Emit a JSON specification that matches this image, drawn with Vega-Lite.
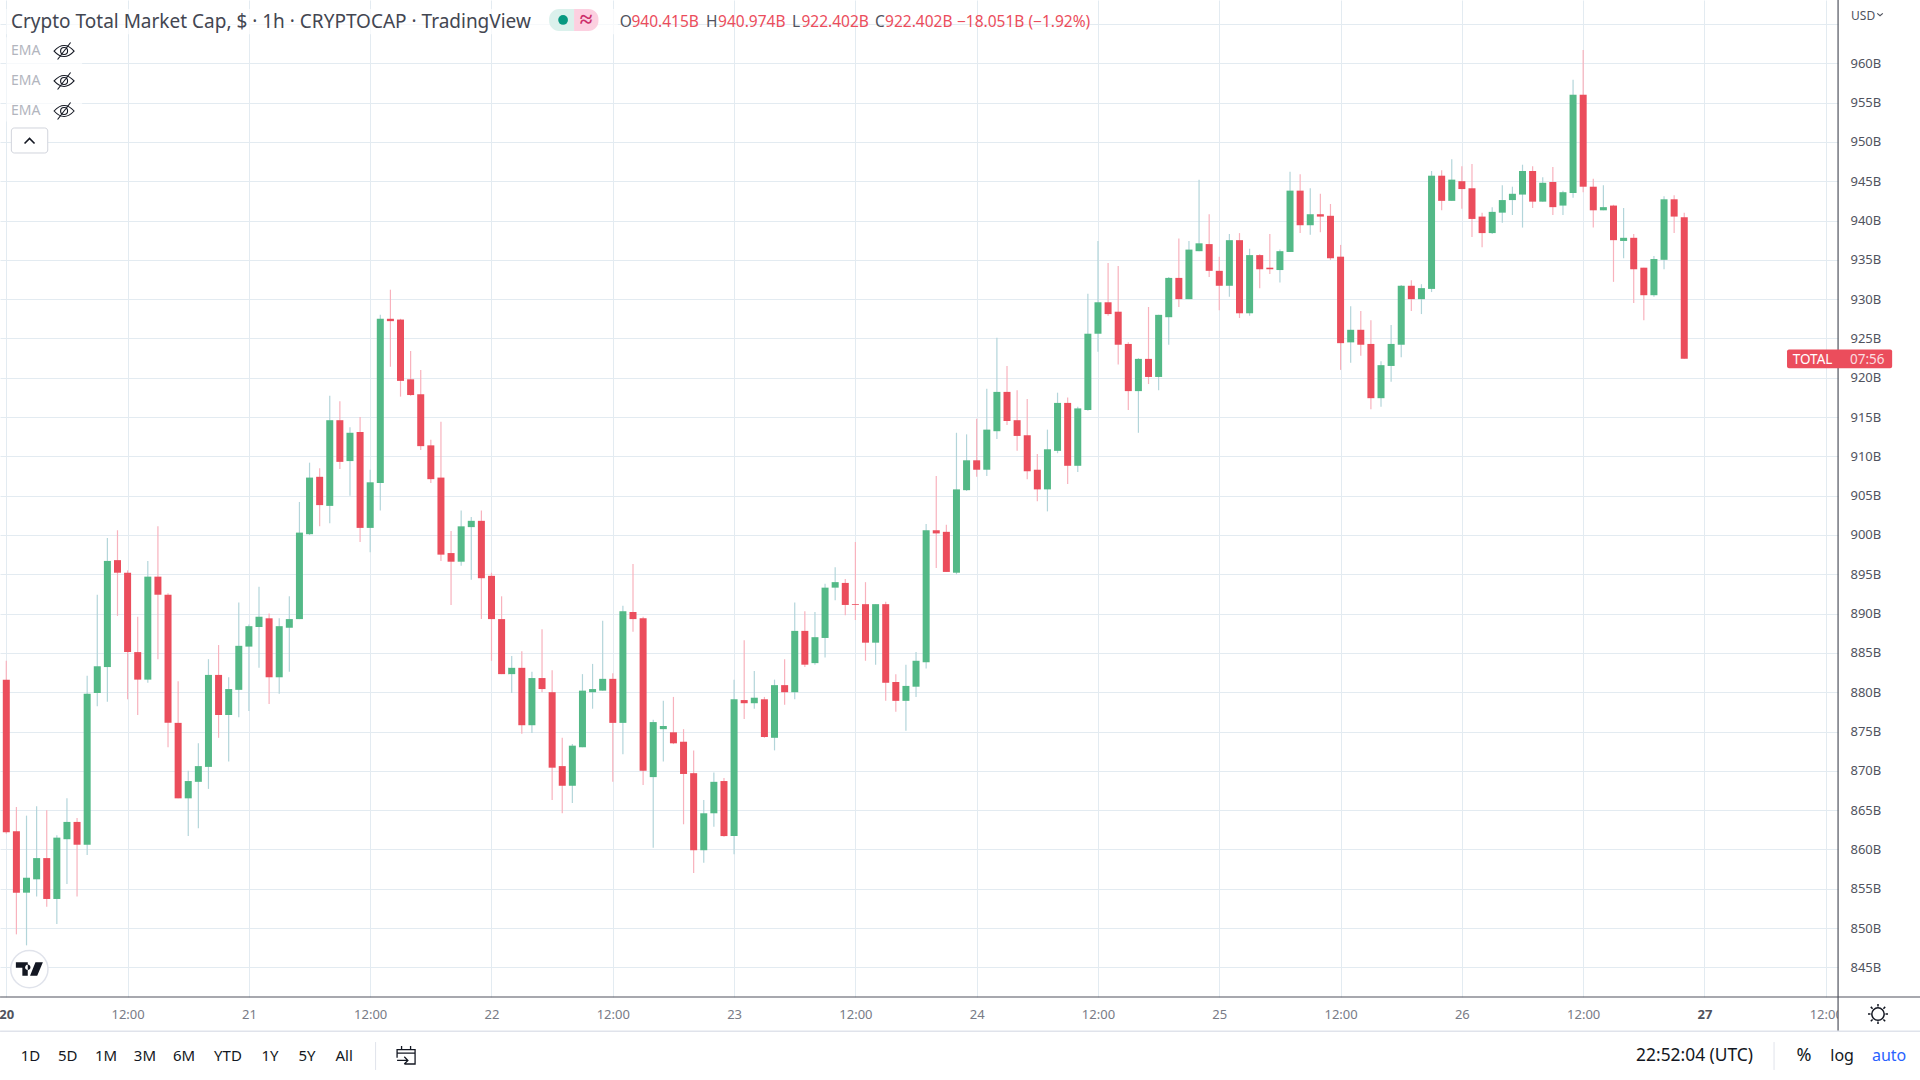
{
"$schema":"https://vega.github.io/schema/vega-lite/v6.json",
"width":1838,"height":997,"autosize":"none","padding":{"left":0,"top":0,"right":82,"bottom":83},
"background":"white",
"config":{"view":{"stroke":null},"text":{"font":"Noto Sans"},"axis":{"labelFont":"Noto Sans"}},
"data":{"values":[{}]},
"datasets":{"candles":[
{"t":"2022-06-20T00:00Z","o":881.6,"h":884.0,"l":862.0,"c":862.2},
{"t":"2022-06-20T01:00Z","o":862.3,"h":865.4,"l":849.2,"c":854.5},
{"t":"2022-06-20T02:00Z","o":854.5,"h":864.3,"l":847.8,"c":856.4},
{"t":"2022-06-20T03:00Z","o":856.2,"h":865.5,"l":854.0,"c":858.9},
{"t":"2022-06-20T04:00Z","o":858.9,"h":865.0,"l":852.7,"c":853.7},
{"t":"2022-06-20T05:00Z","o":853.7,"h":861.8,"l":850.5,"c":861.5},
{"t":"2022-06-20T06:00Z","o":861.3,"h":866.5,"l":855.6,"c":863.5},
{"t":"2022-06-20T07:00Z","o":863.5,"h":864.0,"l":854.0,"c":860.6},
{"t":"2022-06-20T08:00Z","o":860.6,"h":882.1,"l":859.3,"c":879.8},
{"t":"2022-06-20T09:00Z","o":879.9,"h":892.4,"l":878.2,"c":883.3},
{"t":"2022-06-20T10:00Z","o":883.2,"h":899.6,"l":878.8,"c":896.7},
{"t":"2022-06-20T11:00Z","o":896.8,"h":900.6,"l":889.7,"c":895.2},
{"t":"2022-06-20T12:00Z","o":895.2,"h":895.5,"l":879.1,"c":885.1},
{"t":"2022-06-20T13:00Z","o":885.1,"h":889.6,"l":877.1,"c":881.6},
{"t":"2022-06-20T14:00Z","o":881.6,"h":896.7,"l":881.2,"c":894.7},
{"t":"2022-06-20T15:00Z","o":894.7,"h":901.1,"l":884.2,"c":892.4},
{"t":"2022-06-20T16:00Z","o":892.4,"h":892.6,"l":873.0,"c":876.1},
{"t":"2022-06-20T17:00Z","o":876.1,"h":881.4,"l":866.5,"c":866.5},
{"t":"2022-06-20T18:00Z","o":866.5,"h":870.0,"l":861.7,"c":868.7},
{"t":"2022-06-20T19:00Z","o":868.6,"h":873.5,"l":862.7,"c":870.6},
{"t":"2022-06-20T20:00Z","o":870.5,"h":884.2,"l":867.7,"c":882.2},
{"t":"2022-06-20T21:00Z","o":882.2,"h":886.0,"l":874.2,"c":877.1},
{"t":"2022-06-20T22:00Z","o":877.1,"h":881.9,"l":871.2,"c":880.4},
{"t":"2022-06-20T23:00Z","o":880.3,"h":891.4,"l":876.8,"c":885.9},
{"t":"2022-06-21T00:00Z","o":885.8,"h":888.6,"l":877.6,"c":888.4},
{"t":"2022-06-21T01:00Z","o":888.3,"h":893.4,"l":883.1,"c":889.6},
{"t":"2022-06-21T02:00Z","o":889.4,"h":890.0,"l":878.5,"c":881.9},
{"t":"2022-06-21T03:00Z","o":881.9,"h":889.4,"l":879.8,"c":888.4},
{"t":"2022-06-21T04:00Z","o":888.2,"h":892.2,"l":882.6,"c":889.3},
{"t":"2022-06-21T05:00Z","o":889.3,"h":904.2,"l":889.3,"c":900.3},
{"t":"2022-06-21T06:00Z","o":900.1,"h":909.2,"l":900.0,"c":907.3},
{"t":"2022-06-21T07:00Z","o":907.4,"h":908.5,"l":901.1,"c":903.8},
{"t":"2022-06-21T08:00Z","o":903.7,"h":917.7,"l":901.5,"c":914.6},
{"t":"2022-06-21T09:00Z","o":914.6,"h":917.0,"l":908.4,"c":909.3},
{"t":"2022-06-21T10:00Z","o":909.4,"h":913.7,"l":905.0,"c":913.0},
{"t":"2022-06-21T11:00Z","o":913.1,"h":915.0,"l":899.1,"c":900.9},
{"t":"2022-06-21T12:00Z","o":900.9,"h":908.3,"l":897.8,"c":906.7},
{"t":"2022-06-21T13:00Z","o":906.6,"h":928.0,"l":903.1,"c":927.5},
{"t":"2022-06-21T14:00Z","o":927.5,"h":931.2,"l":921.4,"c":927.2},
{"t":"2022-06-21T15:00Z","o":927.4,"h":927.5,"l":917.6,"c":919.6},
{"t":"2022-06-21T16:00Z","o":919.8,"h":923.4,"l":917.7,"c":917.8},
{"t":"2022-06-21T17:00Z","o":917.9,"h":921.0,"l":910.8,"c":911.3},
{"t":"2022-06-21T18:00Z","o":911.4,"h":912.1,"l":906.6,"c":907.1},
{"t":"2022-06-21T19:00Z","o":907.3,"h":914.4,"l":896.7,"c":897.5},
{"t":"2022-06-21T20:00Z","o":897.7,"h":900.5,"l":891.1,"c":896.6},
{"t":"2022-06-21T21:00Z","o":896.6,"h":903.1,"l":896.1,"c":901.1},
{"t":"2022-06-21T22:00Z","o":901.0,"h":902.3,"l":894.3,"c":901.8},
{"t":"2022-06-21T23:00Z","o":901.8,"h":903.1,"l":889.3,"c":894.5},
{"t":"2022-06-22T00:00Z","o":894.8,"h":895.2,"l":884.0,"c":889.3},
{"t":"2022-06-22T01:00Z","o":889.3,"h":892.2,"l":882.3,"c":882.3},
{"t":"2022-06-22T02:00Z","o":882.3,"h":884.6,"l":879.9,"c":883.1},
{"t":"2022-06-22T03:00Z","o":883.1,"h":885.2,"l":874.7,"c":875.8},
{"t":"2022-06-22T04:00Z","o":875.8,"h":882.6,"l":874.8,"c":881.8},
{"t":"2022-06-22T05:00Z","o":881.8,"h":888.0,"l":880.0,"c":880.4},
{"t":"2022-06-22T06:00Z","o":880.0,"h":882.8,"l":866.3,"c":870.4},
{"t":"2022-06-22T07:00Z","o":870.6,"h":874.2,"l":864.6,"c":868.1},
{"t":"2022-06-22T08:00Z","o":868.1,"h":873.4,"l":865.9,"c":873.2},
{"t":"2022-06-22T09:00Z","o":873.0,"h":882.3,"l":873.0,"c":880.2},
{"t":"2022-06-22T10:00Z","o":880.0,"h":883.6,"l":877.9,"c":880.4},
{"t":"2022-06-22T11:00Z","o":880.2,"h":889.1,"l":880.2,"c":881.7},
{"t":"2022-06-22T12:00Z","o":881.7,"h":882.4,"l":868.6,"c":876.1},
{"t":"2022-06-22T13:00Z","o":876.1,"h":891.0,"l":872.1,"c":890.3},
{"t":"2022-06-22T14:00Z","o":890.2,"h":896.3,"l":887.7,"c":889.3},
{"t":"2022-06-22T15:00Z","o":889.4,"h":889.6,"l":868.2,"c":870.0},
{"t":"2022-06-22T16:00Z","o":869.2,"h":876.5,"l":860.2,"c":876.2},
{"t":"2022-06-22T17:00Z","o":875.3,"h":878.9,"l":871.2,"c":875.7},
{"t":"2022-06-22T18:00Z","o":874.9,"h":879.4,"l":873.4,"c":873.5},
{"t":"2022-06-22T19:00Z","o":873.7,"h":875.3,"l":863.2,"c":869.6},
{"t":"2022-06-22T20:00Z","o":869.7,"h":872.6,"l":857.0,"c":859.9},
{"t":"2022-06-22T21:00Z","o":859.9,"h":866.3,"l":858.3,"c":864.6},
{"t":"2022-06-22T22:00Z","o":864.6,"h":869.8,"l":862.9,"c":868.6},
{"t":"2022-06-22T23:00Z","o":868.7,"h":869.1,"l":861.6,"c":861.7},
{"t":"2022-06-23T00:00Z","o":861.7,"h":881.6,"l":859.4,"c":879.1},
{"t":"2022-06-23T01:00Z","o":879.0,"h":886.6,"l":876.6,"c":878.6},
{"t":"2022-06-23T02:00Z","o":878.6,"h":882.7,"l":877.9,"c":879.3},
{"t":"2022-06-23T03:00Z","o":879.1,"h":879.4,"l":874.2,"c":874.3},
{"t":"2022-06-23T04:00Z","o":874.2,"h":881.6,"l":872.6,"c":880.9},
{"t":"2022-06-23T05:00Z","o":880.9,"h":884.2,"l":878.4,"c":880.0},
{"t":"2022-06-23T06:00Z","o":880.0,"h":891.4,"l":879.1,"c":887.8},
{"t":"2022-06-23T07:00Z","o":887.8,"h":890.3,"l":883.2,"c":883.5},
{"t":"2022-06-23T08:00Z","o":883.7,"h":890.2,"l":883.5,"c":887.0},
{"t":"2022-06-23T09:00Z","o":886.9,"h":893.8,"l":884.4,"c":893.3},
{"t":"2022-06-23T10:00Z","o":893.3,"h":895.9,"l":891.7,"c":894.0},
{"t":"2022-06-23T11:00Z","o":893.9,"h":894.4,"l":889.8,"c":891.1},
{"t":"2022-06-23T12:00Z","o":891.2,"h":899.1,"l":889.2,"c":891.1},
{"t":"2022-06-23T13:00Z","o":891.2,"h":894.0,"l":884.0,"c":886.3},
{"t":"2022-06-23T14:00Z","o":886.3,"h":891.2,"l":883.5,"c":891.2},
{"t":"2022-06-23T15:00Z","o":891.2,"h":891.5,"l":878.9,"c":881.2},
{"t":"2022-06-23T16:00Z","o":881.3,"h":882.3,"l":877.5,"c":878.9},
{"t":"2022-06-23T17:00Z","o":878.9,"h":883.5,"l":875.1,"c":880.8},
{"t":"2022-06-23T18:00Z","o":880.7,"h":885.1,"l":879.4,"c":884.0},
{"t":"2022-06-23T19:00Z","o":883.8,"h":901.4,"l":883.0,"c":900.6},
{"t":"2022-06-23T20:00Z","o":900.6,"h":907.5,"l":895.8,"c":900.2},
{"t":"2022-06-23T21:00Z","o":900.4,"h":901.3,"l":895.3,"c":895.3},
{"t":"2022-06-23T22:00Z","o":895.2,"h":913.0,"l":895.0,"c":905.8},
{"t":"2022-06-23T23:00Z","o":905.7,"h":912.8,"l":905.6,"c":909.5},
{"t":"2022-06-24T00:00Z","o":909.5,"h":914.8,"l":907.4,"c":908.3},
{"t":"2022-06-24T01:00Z","o":908.3,"h":918.6,"l":907.5,"c":913.4},
{"t":"2022-06-24T02:00Z","o":913.2,"h":925.1,"l":912.2,"c":918.2},
{"t":"2022-06-24T03:00Z","o":918.2,"h":921.5,"l":914.0,"c":914.5},
{"t":"2022-06-24T04:00Z","o":914.6,"h":918.4,"l":910.7,"c":912.6},
{"t":"2022-06-24T05:00Z","o":912.7,"h":917.3,"l":907.1,"c":908.1},
{"t":"2022-06-24T06:00Z","o":908.3,"h":910.3,"l":904.3,"c":905.8},
{"t":"2022-06-24T07:00Z","o":905.8,"h":913.4,"l":903.0,"c":910.9},
{"t":"2022-06-24T08:00Z","o":910.7,"h":918.1,"l":910.4,"c":916.8},
{"t":"2022-06-24T09:00Z","o":916.8,"h":917.5,"l":906.5,"c":908.8},
{"t":"2022-06-24T10:00Z","o":908.8,"h":916.3,"l":908.0,"c":916.1},
{"t":"2022-06-24T11:00Z","o":915.9,"h":930.7,"l":915.8,"c":925.6},
{"t":"2022-06-24T12:00Z","o":925.6,"h":937.4,"l":923.3,"c":929.6},
{"t":"2022-06-24T13:00Z","o":929.6,"h":934.6,"l":927.9,"c":928.1},
{"t":"2022-06-24T14:00Z","o":928.4,"h":934.2,"l":921.7,"c":924.2},
{"t":"2022-06-24T15:00Z","o":924.3,"h":924.5,"l":915.9,"c":918.3},
{"t":"2022-06-24T16:00Z","o":918.3,"h":922.5,"l":913.0,"c":922.4},
{"t":"2022-06-24T17:00Z","o":922.4,"h":929.0,"l":919.2,"c":920.1},
{"t":"2022-06-24T18:00Z","o":920.1,"h":928.0,"l":918.4,"c":928.0},
{"t":"2022-06-24T19:00Z","o":927.7,"h":932.8,"l":924.2,"c":932.7},
{"t":"2022-06-24T20:00Z","o":932.7,"h":937.7,"l":929.0,"c":930.0},
{"t":"2022-06-24T21:00Z","o":930.0,"h":937.4,"l":930.0,"c":936.3},
{"t":"2022-06-24T22:00Z","o":936.1,"h":945.2,"l":936.1,"c":937.1},
{"t":"2022-06-24T23:00Z","o":937.0,"h":940.8,"l":932.8,"c":933.6},
{"t":"2022-06-25T00:00Z","o":933.6,"h":935.4,"l":928.6,"c":931.7},
{"t":"2022-06-25T01:00Z","o":931.7,"h":938.3,"l":930.3,"c":937.5},
{"t":"2022-06-25T02:00Z","o":937.5,"h":938.4,"l":927.6,"c":928.2},
{"t":"2022-06-25T03:00Z","o":928.2,"h":936.4,"l":927.9,"c":935.6},
{"t":"2022-06-25T04:00Z","o":935.6,"h":935.7,"l":931.4,"c":933.8},
{"t":"2022-06-25T05:00Z","o":934.0,"h":938.3,"l":933.2,"c":933.8},
{"t":"2022-06-25T06:00Z","o":933.7,"h":936.3,"l":932.1,"c":936.1},
{"t":"2022-06-25T07:00Z","o":936.0,"h":946.2,"l":936.0,"c":943.8},
{"t":"2022-06-25T08:00Z","o":943.8,"h":945.9,"l":938.4,"c":939.4},
{"t":"2022-06-25T09:00Z","o":939.4,"h":944.1,"l":938.2,"c":940.8},
{"t":"2022-06-25T10:00Z","o":940.8,"h":943.4,"l":938.5,"c":940.5},
{"t":"2022-06-25T11:00Z","o":940.6,"h":942.1,"l":935.0,"c":935.2},
{"t":"2022-06-25T12:00Z","o":935.4,"h":936.9,"l":921.0,"c":924.4},
{"t":"2022-06-25T13:00Z","o":924.5,"h":929.1,"l":921.9,"c":926.1},
{"t":"2022-06-25T14:00Z","o":926.1,"h":928.5,"l":922.8,"c":924.2},
{"t":"2022-06-25T15:00Z","o":924.3,"h":927.3,"l":916.0,"c":917.4},
{"t":"2022-06-25T16:00Z","o":917.4,"h":922.1,"l":916.3,"c":921.6},
{"t":"2022-06-25T17:00Z","o":921.5,"h":926.7,"l":919.5,"c":924.3},
{"t":"2022-06-25T18:00Z","o":924.2,"h":931.8,"l":922.6,"c":931.7},
{"t":"2022-06-25T19:00Z","o":931.7,"h":932.4,"l":928.5,"c":930.0},
{"t":"2022-06-25T20:00Z","o":930.0,"h":931.9,"l":928.1,"c":931.4},
{"t":"2022-06-25T21:00Z","o":931.3,"h":946.3,"l":930.9,"c":945.7},
{"t":"2022-06-25T22:00Z","o":945.7,"h":946.4,"l":941.3,"c":942.5},
{"t":"2022-06-25T23:00Z","o":942.5,"h":947.8,"l":942.5,"c":945.2},
{"t":"2022-06-26T00:00Z","o":945.0,"h":946.9,"l":941.5,"c":944.0},
{"t":"2022-06-26T01:00Z","o":944.1,"h":947.2,"l":937.9,"c":940.2},
{"t":"2022-06-26T02:00Z","o":940.5,"h":941.0,"l":936.6,"c":938.4},
{"t":"2022-06-26T03:00Z","o":938.4,"h":941.7,"l":938.3,"c":941.1},
{"t":"2022-06-26T04:00Z","o":941.0,"h":944.5,"l":939.7,"c":942.6},
{"t":"2022-06-26T05:00Z","o":942.6,"h":944.3,"l":940.7,"c":943.4},
{"t":"2022-06-26T06:00Z","o":943.3,"h":947.1,"l":939.1,"c":946.3},
{"t":"2022-06-26T07:00Z","o":946.3,"h":946.9,"l":941.6,"c":942.4},
{"t":"2022-06-26T08:00Z","o":942.4,"h":945.5,"l":942.4,"c":944.8},
{"t":"2022-06-26T09:00Z","o":944.9,"h":946.8,"l":940.7,"c":941.7},
{"t":"2022-06-26T10:00Z","o":941.9,"h":943.8,"l":940.7,"c":943.6},
{"t":"2022-06-26T11:00Z","o":943.5,"h":957.9,"l":942.9,"c":956.0},
{"t":"2022-06-26T12:00Z","o":956.0,"h":961.7,"l":943.6,"c":944.3},
{"t":"2022-06-26T13:00Z","o":944.3,"h":945.3,"l":939.1,"c":941.3},
{"t":"2022-06-26T14:00Z","o":941.3,"h":944.5,"l":941.3,"c":941.7},
{"t":"2022-06-26T15:00Z","o":941.9,"h":942.0,"l":932.2,"c":937.5},
{"t":"2022-06-26T16:00Z","o":937.4,"h":941.6,"l":935.2,"c":937.8},
{"t":"2022-06-26T17:00Z","o":937.8,"h":938.3,"l":929.5,"c":933.8},
{"t":"2022-06-26T18:00Z","o":934.0,"h":934.0,"l":927.3,"c":930.5},
{"t":"2022-06-26T19:00Z","o":930.5,"h":935.5,"l":930.3,"c":935.1},
{"t":"2022-06-26T20:00Z","o":935.0,"h":943.1,"l":933.8,"c":942.7},
{"t":"2022-06-26T21:00Z","o":942.7,"h":943.2,"l":938.4,"c":940.5},
{"t":"2022-06-26T22:00Z","o":940.415,"h":940.974,"l":922.402,"c":922.402}
]},
"layer":[
{"data":{"name":"candles"},
 "mark":{"type":"rule","strokeWidth":1.2},
 "encoding":{
  "x":{"field":"t","type":"temporal","title":null,
   "scale":{"type":"utc","padding":0,"domain":["2022-06-19T23:22:37Z","2022-06-27T13:12:36Z"]},
   "axis":{"orient":"bottom","domain":false,"ticks":false,"title":null,"grid":true,"gridColor":"#e3ebf1","gridWidth":1,"zindex":0,
    "labelBaseline":"middle","labelPadding":17,"labelFontSize":13,"labelColor":{"condition":{"test":"utchours(datum.value)==0 && (utcdate(datum.value)==20 || utcdate(datum.value)==27)","value":"#50535e"},"value":"#787b86"},
    "labelFontWeight":{"condition":{"test":"utchours(datum.value)==0 && (utcdate(datum.value)==20 || utcdate(datum.value)==27)","value":"bold"},"value":"normal"},
    "labelOverlap":false,"labelBound":false,"labelFlush":false,"labelAngle":0,
    "labelExpr":"utchours(datum.value)==0 ? ''+utcdate(datum.value) : '12:00'",
    "values":["2022-06-20T00:00:00Z","2022-06-20T12:00:00Z","2022-06-21T00:00:00Z","2022-06-21T12:00:00Z","2022-06-22T00:00:00Z","2022-06-22T12:00:00Z","2022-06-23T00:00:00Z","2022-06-23T12:00:00Z","2022-06-24T00:00:00Z","2022-06-24T12:00:00Z","2022-06-25T00:00:00Z","2022-06-25T12:00:00Z","2022-06-26T00:00:00Z","2022-06-26T12:00:00Z","2022-06-27T00:00:00Z","2022-06-27T12:00:00Z"]}},
  "y":{"field":"l","type":"quantitative","title":null,
   "scale":{"domain":[841.23,968.05],"nice":false,"zero":false},
   "axis":{"orient":"right","domain":false,"ticks":false,"title":null,"grid":true,"gridColor":"#e3ebf1","gridWidth":1,"zindex":0,
    "labelAlign":"left","labelBaseline":"middle","labelPadding":12,"labelFontSize":13,"labelColor":"#50535e","labelOverlap":false,"labelBound":false,"labelFlush":false,
    "labelExpr":"datum.value>960 ? '' : datum.value+'B'",
    "values":[845,850,855,860,865,870,875,880,885,890,895,900,905,910,915,920,925,930,935,940,945,950,955,960,965]}},
  "y2":{"field":"h"},
  "color":{"condition":{"test":"datum.c>=datum.o","value":"#b3d5da"},"value":"#f8b2bd"}
 }},
{"data":{"name":"candles"},
 "mark":{"type":"bar","size":7},
 "encoding":{
  "x":{"field":"t","type":"temporal"},
  "y":{"field":"o","type":"quantitative"},
  "y2":{"field":"c"},
  "color":{"condition":{"test":"datum.c>=datum.o","value":"#53b987"},"value":"#eb4d5c"}
 }},
{"mark":{"type":"rect","color":"white"},"encoding":{"x":{"datum":{"year":2022,"month":6,"date":27,"hours":13,"minutes":13,"utc":true},"type":"temporal"},"x2":{"datum":{"year":2022,"month":6,"date":27,"hours":21,"minutes":20,"utc":true}},"y":{"datum":841.23,"type":"quantitative"},"y2":{"datum":836.88}}},
{"mark":{"type":"rect","color":"white","opacity":0.7},"encoding":{"x":{"datum":{"year":2022,"month":6,"date":20,"hours":0,"minutes":0,"utc":true},"type":"temporal"},"x2":{"datum":{"year":2022,"month":6,"date":22,"hours":12,"minutes":30,"utc":true}},"y":{"datum":966.9,"type":"quantitative"},"y2":{"datum":963.7}}},
{"mark":{"type":"rect","color":"white","opacity":0.7},"encoding":{"x":{"datum":{"year":2022,"month":6,"date":20,"hours":0,"minutes":0,"utc":true},"type":"temporal"},"x2":{"datum":{"year":2022,"month":6,"date":20,"hours":7,"minutes":30,"utc":true}},"y":{"datum":963.3,"type":"quantitative"},"y2":{"datum":952.6}}},
{"mark":{"type":"rule","color":"#50535e","strokeWidth":1.2},"encoding":{"x":{"datum":{"year":2022,"month":6,"date":19,"hours":23,"minutes":23,"utc":true},"type":"temporal"},"x2":{"datum":{"year":2022,"month":6,"date":27,"hours":21,"minutes":20,"utc":true}},"y":{"datum":841.23,"type":"quantitative"}}},
{"mark":{"type":"rule","color":"#50535e","strokeWidth":1.2},"encoding":{"x":{"datum":{"year":2022,"month":6,"date":27,"hours":13,"minutes":13,"utc":true},"type":"temporal"},"y":{"datum":968.05,"type":"quantitative"},"y2":{"datum":836.88}}},
{"mark":{"type":"rule","color":"#e0e3eb","strokeWidth":1.5},"encoding":{"x":{"datum":{"year":2022,"month":6,"date":19,"hours":23,"minutes":23,"utc":true},"type":"temporal"},"x2":{"datum":{"year":2022,"month":6,"date":27,"hours":21,"minutes":20,"utc":true}},"y":{"datum":836.88,"type":"quantitative"}}},
{"mark":{"type":"rule","color":"#e0e3eb","strokeWidth":1},"encoding":{"x":{"datum":{"year":2022,"month":6,"date":21,"hours":12,"minutes":32,"utc":true},"type":"temporal"},"y":{"datum":835.5,"type":"quantitative"},"y2":{"datum":831.95}}},
{"mark":{"type":"rule","color":"#e0e3eb","strokeWidth":1},"encoding":{"x":{"datum":{"year":2022,"month":6,"date":27,"hours":6,"minutes":53,"utc":true},"type":"temporal"},"y":{"datum":835.5,"type":"quantitative"},"y2":{"datum":831.95}}},
{"mark":{"type":"rect","color":"#eb4d5c","cornerRadius":2},"encoding":{"x":{"datum":{"year":2022,"month":6,"date":27,"hours":8,"minutes":10,"utc":true},"type":"temporal"},"x2":{"datum":{"year":2022,"month":6,"date":27,"hours":18,"minutes":34,"utc":true}},"y":{"datum":923.6,"type":"quantitative"},"y2":{"datum":921.2}}},
{"mark":{"type":"text","text":"TOTAL","align":"left","baseline":"middle","fontSize":13.5,"color":"white"},"encoding":{"x":{"datum":{"year":2022,"month":6,"date":27,"hours":8,"minutes":44,"utc":true},"type":"temporal"},"y":{"datum":922.3,"type":"quantitative"}}},
{"mark":{"type":"text","text":"07:56","align":"left","baseline":"middle","fontSize":13.5,"color":"#fbdde0"},"encoding":{"x":{"datum":{"year":2022,"month":6,"date":27,"hours":14,"minutes":24,"utc":true},"type":"temporal"},"y":{"datum":922.3,"type":"quantitative"}}},
{"mark":{"type":"text","text":"Crypto Total Market Cap, $ · 1h · CRYPTOCAP · TradingView","align":"left","baseline":"middle","fontSize":19,"color":"#434651"},"encoding":{"x":{"datum":{"year":2022,"month":6,"date":20,"hours":0,"minutes":28,"utc":true},"type":"temporal"},"y":{"datum":965.3,"type":"quantitative"}}},
{"mark":{"type":"rect","color":"#dbf1ec","cornerRadiusTopLeft":10,"cornerRadiusBottomLeft":10},"encoding":{"x":{"datum":{"year":2022,"month":6,"date":22,"hours":5,"minutes":42,"utc":true},"type":"temporal"},"x2":{"datum":{"year":2022,"month":6,"date":22,"hours":8,"minutes":10,"utc":true}},"y":{"datum":966.91,"type":"quantitative"},"y2":{"datum":964.11}}},
{"mark":{"type":"rect","color":"#fcd0e0","cornerRadiusTopRight":10,"cornerRadiusBottomRight":10},"encoding":{"x":{"datum":{"year":2022,"month":6,"date":22,"hours":8,"minutes":10,"utc":true},"type":"temporal"},"x2":{"datum":{"year":2022,"month":6,"date":22,"hours":10,"minutes":35,"utc":true}},"y":{"datum":966.91,"type":"quantitative"},"y2":{"datum":964.11}}},
{"mark":{"type":"point","shape":"circle","filled":true,"size":95,"color":"#089981","opacity":1},"encoding":{"x":{"datum":{"year":2022,"month":6,"date":22,"hours":7,"minutes":5,"utc":true},"type":"temporal"},"y":{"datum":965.51,"type":"quantitative"}}},
{"mark":{"type":"text","text":"≈","align":"center","baseline":"middle","fontSize":23,"fontWeight":"bold","color":"#cc2f6b"},"encoding":{"x":{"datum":{"year":2022,"month":6,"date":22,"hours":9,"minutes":21,"utc":true},"type":"temporal"},"y":{"datum":965.51,"type":"quantitative"}}},
{"mark":{"type":"text","text":"O","align":"left","baseline":"middle","fontSize":15.5,"color":"#50535e"},"encoding":{"x":{"datum":{"year":2022,"month":6,"date":22,"hours":12,"minutes":41,"utc":true},"type":"temporal"},"y":{"datum":965.3,"type":"quantitative"}}},
{"mark":{"type":"text","text":"940.415B","align":"left","baseline":"middle","fontSize":15.5,"color":"#eb4d5c"},"encoding":{"x":{"datum":{"year":2022,"month":6,"date":22,"hours":13,"minutes":51,"utc":true},"type":"temporal"},"y":{"datum":965.3,"type":"quantitative"}}},
{"mark":{"type":"text","text":"H","align":"left","baseline":"middle","fontSize":15.5,"color":"#50535e"},"encoding":{"x":{"datum":{"year":2022,"month":6,"date":22,"hours":21,"minutes":13,"utc":true},"type":"temporal"},"y":{"datum":965.3,"type":"quantitative"}}},
{"mark":{"type":"text","text":"940.974B","align":"left","baseline":"middle","fontSize":15.5,"color":"#eb4d5c"},"encoding":{"x":{"datum":{"year":2022,"month":6,"date":22,"hours":22,"minutes":25,"utc":true},"type":"temporal"},"y":{"datum":965.3,"type":"quantitative"}}},
{"mark":{"type":"text","text":"L","align":"left","baseline":"middle","fontSize":15.5,"color":"#50535e"},"encoding":{"x":{"datum":{"year":2022,"month":6,"date":23,"hours":5,"minutes":44,"utc":true},"type":"temporal"},"y":{"datum":965.3,"type":"quantitative"}}},
{"mark":{"type":"text","text":"922.402B","align":"left","baseline":"middle","fontSize":15.5,"color":"#eb4d5c"},"encoding":{"x":{"datum":{"year":2022,"month":6,"date":23,"hours":6,"minutes":40,"utc":true},"type":"temporal"},"y":{"datum":965.3,"type":"quantitative"}}},
{"mark":{"type":"text","text":"C","align":"left","baseline":"middle","fontSize":15.5,"color":"#50535e"},"encoding":{"x":{"datum":{"year":2022,"month":6,"date":23,"hours":13,"minutes":57,"utc":true},"type":"temporal"},"y":{"datum":965.3,"type":"quantitative"}}},
{"mark":{"type":"text","text":"922.402B","align":"left","baseline":"middle","fontSize":15.5,"color":"#eb4d5c"},"encoding":{"x":{"datum":{"year":2022,"month":6,"date":23,"hours":14,"minutes":56,"utc":true},"type":"temporal"},"y":{"datum":965.3,"type":"quantitative"}}},
{"mark":{"type":"text","text":"−18.051B (−1.92%)","align":"left","baseline":"middle","fontSize":15.5,"color":"#eb4d5c"},"encoding":{"x":{"datum":{"year":2022,"month":6,"date":23,"hours":22,"minutes":3,"utc":true},"type":"temporal"},"y":{"datum":965.3,"type":"quantitative"}}},
{"mark":{"type":"text","text":"EMA","align":"left","baseline":"middle","fontSize":14,"color":"#b2b5be"},"encoding":{"x":{"datum":{"year":2022,"month":6,"date":20,"hours":0,"minutes":28,"utc":true},"type":"temporal"},"y":{"datum":961.5,"type":"quantitative"}}},
{"mark":{"type":"text","text":"EMA","align":"left","baseline":"middle","fontSize":14,"color":"#b2b5be"},"encoding":{"x":{"datum":{"year":2022,"month":6,"date":20,"hours":0,"minutes":28,"utc":true},"type":"temporal"},"y":{"datum":957.7,"type":"quantitative"}}},
{"mark":{"type":"text","text":"EMA","align":"left","baseline":"middle","fontSize":14,"color":"#b2b5be"},"encoding":{"x":{"datum":{"year":2022,"month":6,"date":20,"hours":0,"minutes":28,"utc":true},"type":"temporal"},"y":{"datum":953.9,"type":"quantitative"}}},
{"mark":{"type":"point","size":400,"filled":false,"strokeWidth":1.1,"color":"#131722","opacity":1,"shape":"M-1,0 Q0,-1.1 1,0 Q0,1.1 -1,0 Z M-0.35,0 A0.35,0.35 0 1 0 0.35,0 A0.35,0.35 0 1 0 -0.35,0 M-0.65,0.85 L0.65,-0.85"},"encoding":{"x":{"datum":{"year":2022,"month":6,"date":20,"hours":5,"minutes":43,"utc":true},"type":"temporal"},"y":{"datum":961.56,"type":"quantitative"}}},
{"mark":{"type":"point","size":400,"filled":false,"strokeWidth":1.1,"color":"#131722","opacity":1,"shape":"M-1,0 Q0,-1.1 1,0 Q0,1.1 -1,0 Z M-0.35,0 A0.35,0.35 0 1 0 0.35,0 A0.35,0.35 0 1 0 -0.35,0 M-0.65,0.85 L0.65,-0.85"},"encoding":{"x":{"datum":{"year":2022,"month":6,"date":20,"hours":5,"minutes":43,"utc":true},"type":"temporal"},"y":{"datum":957.75,"type":"quantitative"}}},
{"mark":{"type":"point","size":400,"filled":false,"strokeWidth":1.1,"color":"#131722","opacity":1,"shape":"M-1,0 Q0,-1.1 1,0 Q0,1.1 -1,0 Z M-0.35,0 A0.35,0.35 0 1 0 0.35,0 A0.35,0.35 0 1 0 -0.35,0 M-0.65,0.85 L0.65,-0.85"},"encoding":{"x":{"datum":{"year":2022,"month":6,"date":20,"hours":5,"minutes":43,"utc":true},"type":"temporal"},"y":{"datum":953.93,"type":"quantitative"}}},
{"mark":{"type":"rect","color":"white","stroke":"#d1d4dc","strokeWidth":1,"cornerRadius":3},"encoding":{"x":{"datum":{"year":2022,"month":6,"date":20,"hours":0,"minutes":30,"utc":true},"type":"temporal"},"x2":{"datum":{"year":2022,"month":6,"date":20,"hours":4,"minutes":6,"utc":true}},"y":{"datum":951.77,"type":"quantitative"},"y2":{"datum":948.59}}},
{"mark":{"type":"point","size":400,"filled":false,"strokeWidth":1.6,"color":"#131722","opacity":1,"shape":"M-0.5,0.25 L0,-0.25 L0.5,0.25"},"encoding":{"x":{"datum":{"year":2022,"month":6,"date":20,"hours":2,"minutes":18,"utc":true},"type":"temporal"},"y":{"datum":950.12,"type":"quantitative"}}},
{"mark":{"type":"point","shape":"circle","size":1385,"filled":true,"fill":"white","stroke":"#e0e3eb","strokeWidth":1.5,"opacity":1},"encoding":{"x":{"datum":{"year":2022,"month":6,"date":20,"hours":2,"minutes":17,"utc":true},"type":"temporal"},"y":{"datum":844.78,"type":"quantitative"}}},
{"mark":{"type":"point","size":729,"filled":true,"color":"#131722","opacity":1,"shape":"M-1,-0.5 H-0.12 V0.5 H-0.52 V-0.1 H-1 Z M0.02,-0.28 A0.2,0.2 0 1 0 0.03,-0.27 Z M0.45,-0.5 H1 L0.58,0.5 H0.05 Z"},"encoding":{"x":{"datum":{"year":2022,"month":6,"date":20,"hours":2,"minutes":17,"utc":true},"type":"temporal"},"y":{"datum":844.78,"type":"quantitative"}}},
{"mark":{"type":"text","text":"USD","align":"left","baseline":"middle","fontSize":12,"color":"#50535e"},"encoding":{"x":{"datum":{"year":2022,"month":6,"date":27,"hours":14,"minutes":30,"utc":true},"type":"temporal"},"y":{"datum":966.02,"type":"quantitative"}}},
{"mark":{"type":"point","size":64,"filled":false,"strokeWidth":1.2,"color":"#50535e","opacity":1,"shape":"M-0.7,-0.3 L0,0.3 L0.7,-0.3"},"encoding":{"x":{"datum":{"year":2022,"month":6,"date":27,"hours":17,"minutes":22,"utc":true},"type":"temporal"},"y":{"datum":966.2,"type":"quantitative"}}},
{"mark":{"type":"point","size":400,"filled":false,"strokeWidth":1.5,"color":"#131722","opacity":1,"shape":"M0.62,0 A0.62,0.62 0 1 1 -0.62,0 A0.62,0.62 0 1 1 0.62,0 M0,-1 V-0.75 M0,1 V0.75 M-1,0 H-0.75 M1,0 H0.75 M-0.72,-0.72 L-0.54,-0.54 M0.72,0.72 L0.54,0.54 M-0.72,0.72 L-0.54,0.54 M0.72,-0.72 L0.54,-0.54"},"encoding":{"x":{"datum":{"year":2022,"month":6,"date":27,"hours":17,"minutes":10,"utc":true},"type":"temporal"},"y":{"datum":839.06,"type":"quantitative"}}},
{"mark":{"type":"text","text":"1D","align":"center","baseline":"middle","fontSize":15,"color":"#131722"},"encoding":{"x":{"datum":{"year":2022,"month":6,"date":20,"hours":2,"minutes":24,"utc":true},"type":"temporal"},"y":{"datum":833.75,"type":"quantitative"}}},
{"mark":{"type":"text","text":"5D","align":"center","baseline":"middle","fontSize":15,"color":"#131722"},"encoding":{"x":{"datum":{"year":2022,"month":6,"date":20,"hours":6,"minutes":5,"utc":true},"type":"temporal"},"y":{"datum":833.75,"type":"quantitative"}}},
{"mark":{"type":"text","text":"1M","align":"center","baseline":"middle","fontSize":15,"color":"#131722"},"encoding":{"x":{"datum":{"year":2022,"month":6,"date":20,"hours":9,"minutes":52,"utc":true},"type":"temporal"},"y":{"datum":833.75,"type":"quantitative"}}},
{"mark":{"type":"text","text":"3M","align":"center","baseline":"middle","fontSize":15,"color":"#131722"},"encoding":{"x":{"datum":{"year":2022,"month":6,"date":20,"hours":13,"minutes":43,"utc":true},"type":"temporal"},"y":{"datum":833.75,"type":"quantitative"}}},
{"mark":{"type":"text","text":"6M","align":"center","baseline":"middle","fontSize":15,"color":"#131722"},"encoding":{"x":{"datum":{"year":2022,"month":6,"date":20,"hours":17,"minutes":35,"utc":true},"type":"temporal"},"y":{"datum":833.75,"type":"quantitative"}}},
{"mark":{"type":"text","text":"YTD","align":"center","baseline":"middle","fontSize":15,"color":"#131722"},"encoding":{"x":{"datum":{"year":2022,"month":6,"date":20,"hours":21,"minutes":56,"utc":true},"type":"temporal"},"y":{"datum":833.75,"type":"quantitative"}}},
{"mark":{"type":"text","text":"1Y","align":"center","baseline":"middle","fontSize":15,"color":"#131722"},"encoding":{"x":{"datum":{"year":2022,"month":6,"date":21,"hours":2,"minutes":5,"utc":true},"type":"temporal"},"y":{"datum":833.75,"type":"quantitative"}}},
{"mark":{"type":"text","text":"5Y","align":"center","baseline":"middle","fontSize":15,"color":"#131722"},"encoding":{"x":{"datum":{"year":2022,"month":6,"date":21,"hours":5,"minutes":45,"utc":true},"type":"temporal"},"y":{"datum":833.75,"type":"quantitative"}}},
{"mark":{"type":"text","text":"All","align":"center","baseline":"middle","fontSize":15,"color":"#131722"},"encoding":{"x":{"datum":{"year":2022,"month":6,"date":21,"hours":9,"minutes":25,"utc":true},"type":"temporal"},"y":{"datum":833.75,"type":"quantitative"}}},
{"mark":{"type":"point","size":324,"filled":false,"strokeWidth":1.3,"color":"#131722","opacity":1,"shape":"M-1,0.3 V-0.6 H1 V1 H-0.2 M-1,-0.2 H1 M-0.5,-1 V-0.6 M0.5,-1 V-0.6 M-1,0.6 H0.2 M-0.2,0.2 L0.2,0.6 L-0.2,1"},"encoding":{"x":{"datum":{"year":2022,"month":6,"date":21,"hours":15,"minutes":33,"utc":true},"type":"temporal"},"y":{"datum":833.85,"type":"quantitative"}}},
{"mark":{"type":"text","text":"22:52:04 (UTC)","align":"left","baseline":"middle","fontSize":17.4,"color":"#131722"},"encoding":{"x":{"datum":{"year":2022,"month":6,"date":26,"hours":17,"minutes":14,"utc":true},"type":"temporal"},"y":{"datum":833.75,"type":"quantitative"}}},
{"mark":{"type":"text","text":"%","align":"center","baseline":"middle","fontSize":18,"color":"#131722"},"encoding":{"x":{"datum":{"year":2022,"month":6,"date":27,"hours":9,"minutes":51,"utc":true},"type":"temporal"},"y":{"datum":833.75,"type":"quantitative"}}},
{"mark":{"type":"text","text":"log","align":"center","baseline":"middle","fontSize":16,"color":"#131722"},"encoding":{"x":{"datum":{"year":2022,"month":6,"date":27,"hours":13,"minutes":37,"utc":true},"type":"temporal"},"y":{"datum":833.75,"type":"quantitative"}}},
{"mark":{"type":"text","text":"auto","align":"center","baseline":"middle","fontSize":16,"color":"#2962ff"},"encoding":{"x":{"datum":{"year":2022,"month":6,"date":27,"hours":18,"minutes":16,"utc":true},"type":"temporal"},"y":{"datum":833.75,"type":"quantitative"}}}
]
}
